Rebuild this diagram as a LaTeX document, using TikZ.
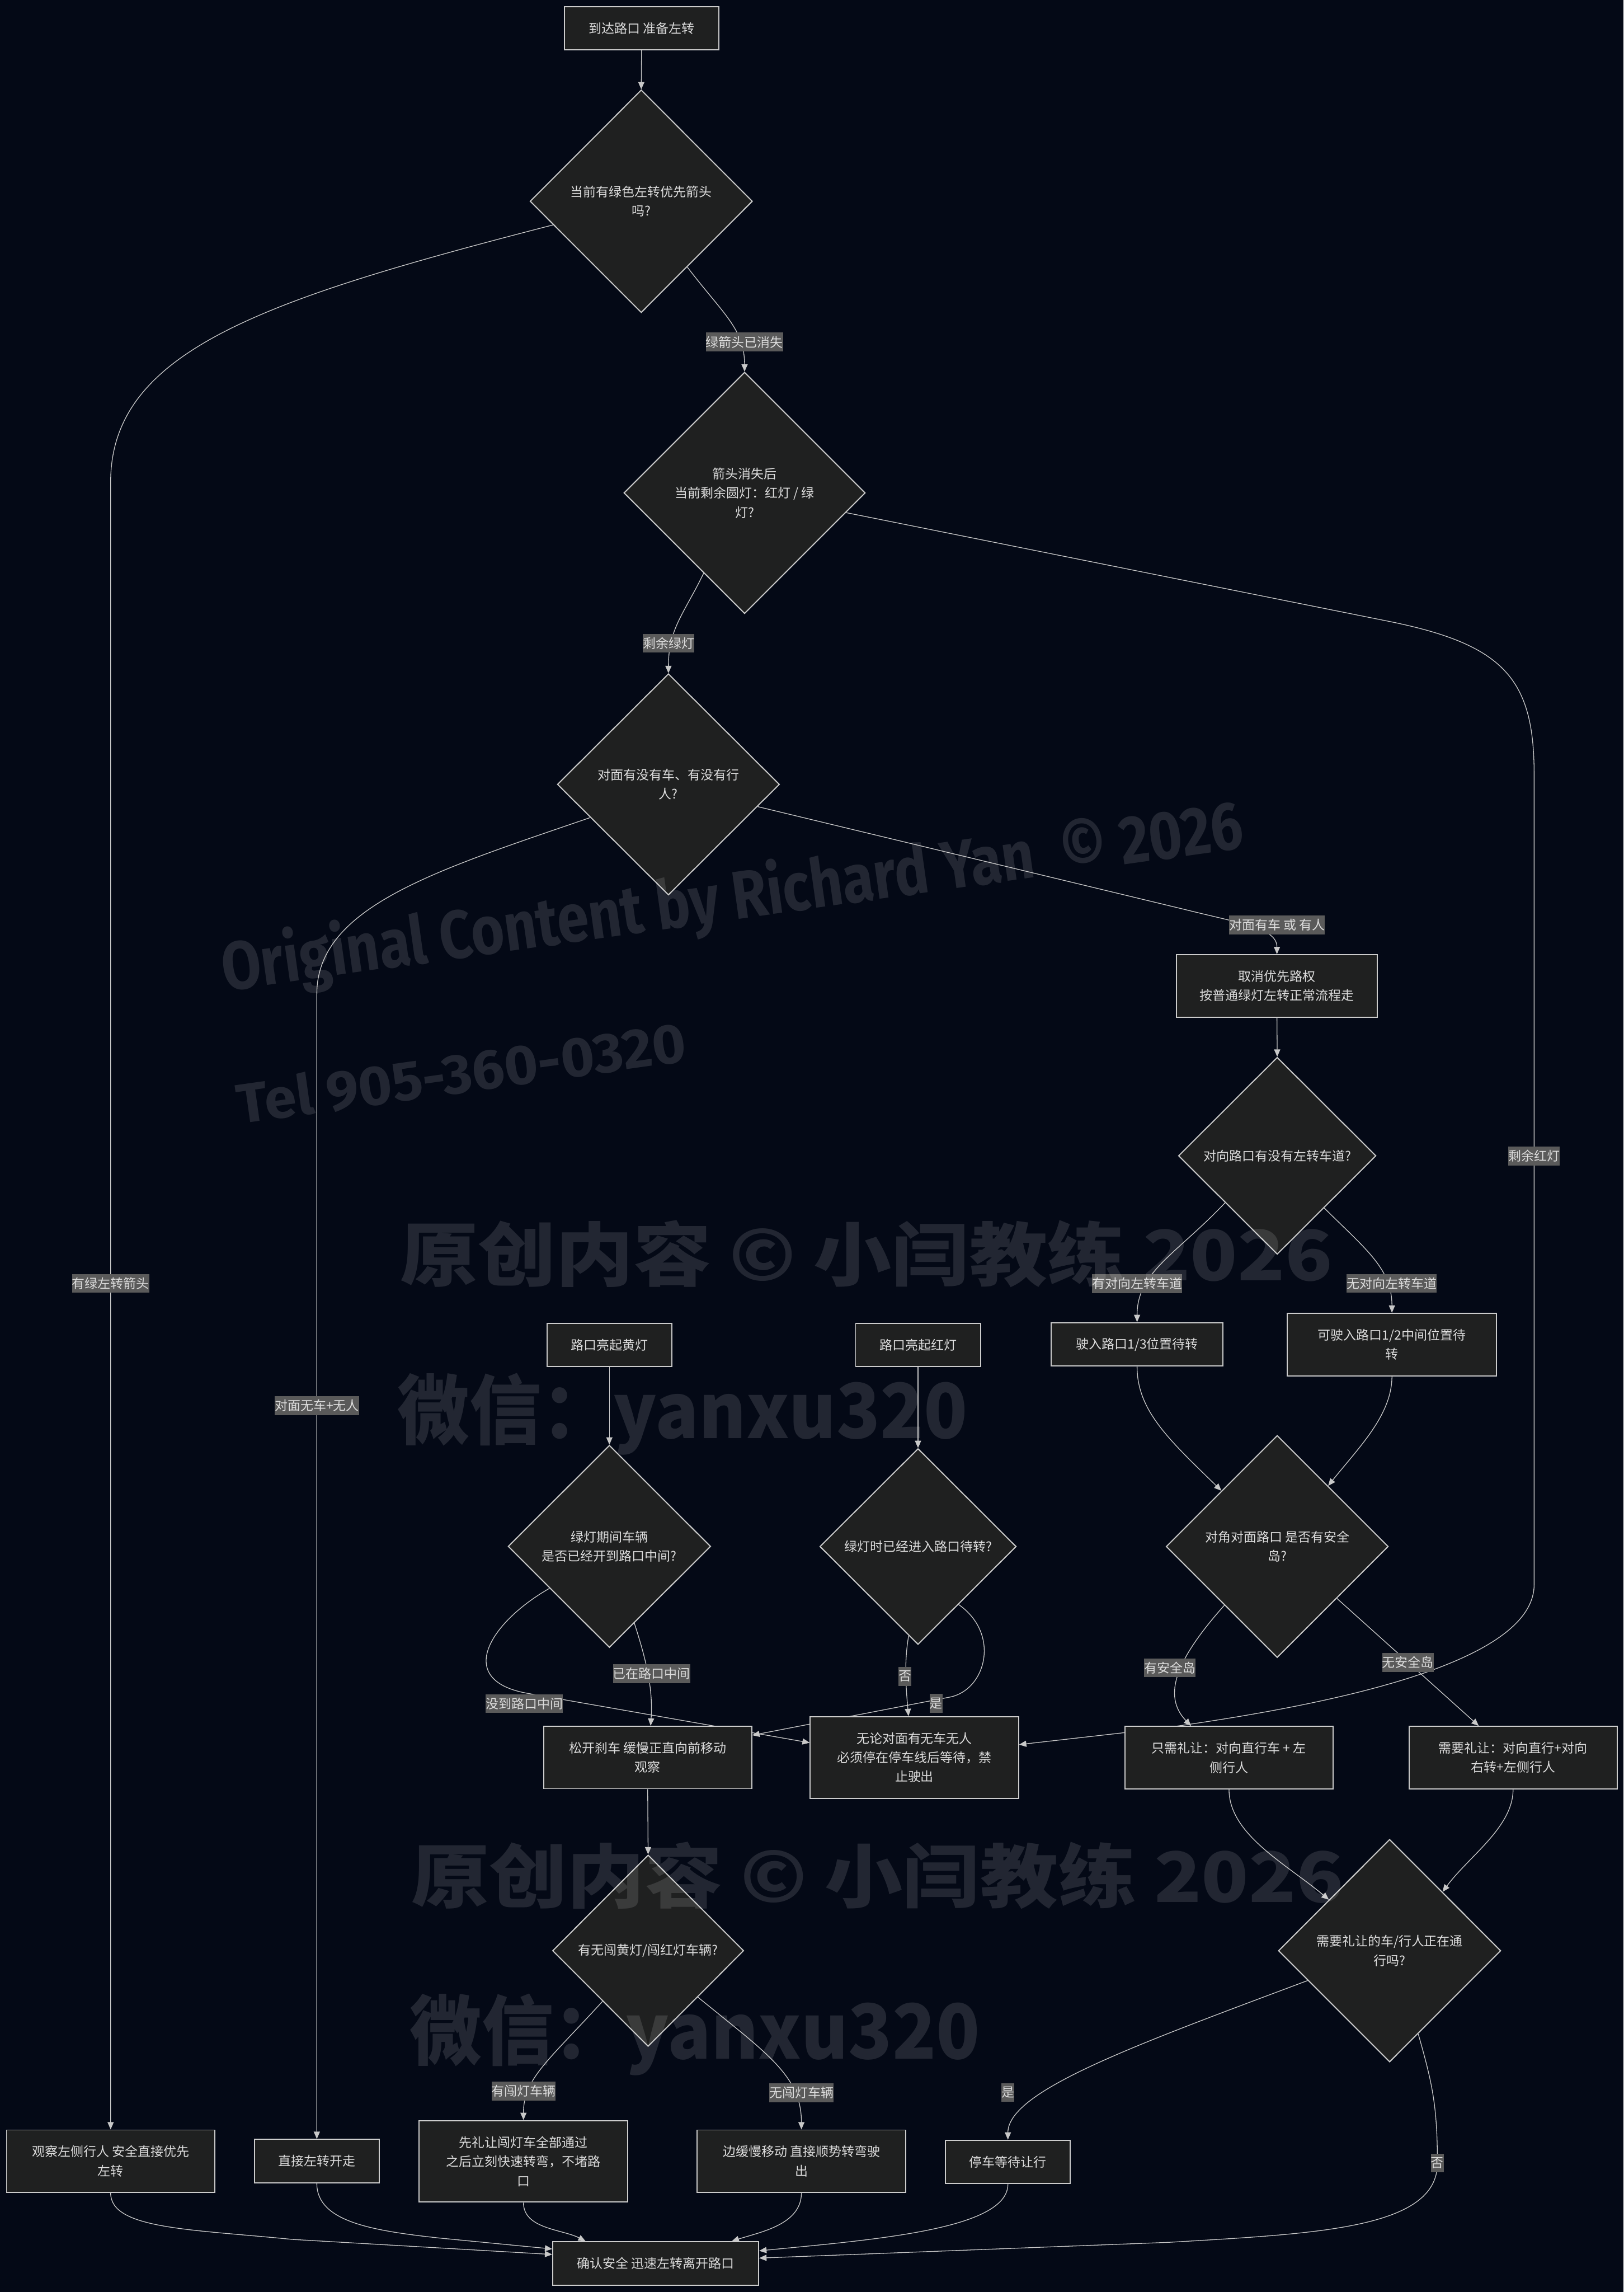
\documentclass[tikz,border=0pt]{standalone}
\usepackage{graphicx}
\usepackage{fontspec}
\setmainfont{Noto Sans CJK SC}
\newfontfamily\wmlatin{Fira Sans}
\newfontfamily\wmcjk{Noto Sans CJK SC}
\usetikzlibrary{shapes.geometric,arrows.meta}
\pgfdeclarelayer{bglayer}
\pgfdeclarelayer{edgelayer}
\pgfdeclarelayer{wmlayer}
\pgfsetlayers{bglayer,edgelayer,main,wmlayer}
\definecolor{bgc}{HTML}{040916}
\definecolor{nodefill}{HTML}{1F2020}
\definecolor{nodeline}{HTML}{CCCCCC}
\definecolor{txt}{HTML}{DDDDDD}
\definecolor{edgec}{HTML}{C8C8C8}
\definecolor{lblbg}{HTML}{5A5A5A}
\newcommand\nodefont{\fontsize{8.8pt}{13.2pt}\selectfont}
\tikzset{
  box/.style={draw=nodeline, fill=nodefill, line width=0.75pt, text=txt, align=center, inner sep=0pt, font=\nodefont},
  dia/.style={diamond, draw=nodeline, fill=nodefill, line width=0.75pt, text=txt, align=center, inner sep=0pt, font=\nodefont},
  lbl/.style={fill=lblbg, text=txt, inner xsep=0pt, inner ysep=0pt, minimum height=12.9pt, font=\nodefont},
  arr/.style={draw=edgec, line width=0.5pt, -{Triangle[length=5pt,width=4.2pt]}},
  wmtext/.style={text=white, text opacity=0.12, inner sep=0pt}
}
\begin{document}
\begin{tikzpicture}[x=1pt,y=-1pt]
\begin{pgfonlayer}{bglayer}
\fill[bgc] (0,0) rectangle (1111,1568);
\end{pgfonlayer}
\useasboundingbox (0,0) rectangle (1111,1568);

% nodes
\node[box, minimum width=105.5pt, minimum height=29.7pt] (start) at (439,19.3) {到达路口 准备左转};
\node[dia, minimum width=152.2pt, minimum height=152.4pt] (d1) at (438.8,137.7) {当前有绿色左转优先箭头\\吗?};
\node[dia, minimum width=165.2pt, minimum height=165.2pt] (d2) at (509.5,337.2) {箭头消失后\\当前剩余圆灯：红灯 / 绿\\灯?};
\node[dia, minimum width=152pt, minimum height=151.4pt] (d3) at (457.4,536.6) {对面有没有车、有没有行\\人?};
\node[box, minimum width=137.7pt, minimum height=42.7pt] (cancel) at (873.8,674.5) {取消优先路权\\按普通绿灯左转正常流程走};
\node[dia, minimum width=135.2pt, minimum height=134.8pt] (d4) at (874,790.7) {对向路口有没有左转车道?};
\node[box, minimum width=117.3pt, minimum height=29.7pt] (b13) at (778.1,919.7) {驶入路口1/3位置待转};
\node[box, minimum width=143.2pt, minimum height=42.7pt] (b12) at (952.5,919.8) {可驶入路口1/2中间位置待\\转};
\node[dia, minimum width=152pt, minimum height=152pt] (d5) at (874,1058) {对角对面路口 是否有安全\\岛?};
\node[box, minimum width=142.6pt, minimum height=42.7pt] (only) at (841,1202.4) {只需礼让：对向直行车 + 左\\侧行人};
\node[box, minimum width=142.4pt, minimum height=42.7pt] (need) at (1035.4,1202.4) {需要礼让：对向直行+对向\\右转+左侧行人};
\node[dia, minimum width=152.2pt, minimum height=152.3pt] (d6) at (950.9,1334.5) {需要礼让的车/行人正在通\\行吗?};
\node[box, minimum width=85.4pt, minimum height=29.7pt] (stopw) at (689.7,1479) {停车等待让行};
\node[box, minimum width=140.9pt, minimum height=29.7pt] (final) at (448.7,1548.5) {确认安全 迅速左转离开路口};
\node[box, minimum width=142.6pt, minimum height=42.7pt] (obs) at (75.7,1478.5) {观察左侧行人 安全直接优先\\左转};
\node[box, minimum width=85.6pt, minimum height=29.7pt] (direct) at (216.8,1478.5) {直接左转开走};
\node[box, minimum width=142.6pt, minimum height=55.8pt] (yield) at (358.2,1478.6) {先礼让闯灯车全部通过\\之后立刻快速转弯，不堵路\\口};
\node[box, minimum width=142.5pt, minimum height=42.7pt] (edgeout) at (548.4,1478.5) {边缓慢移动 直接顺势转弯驶\\出};
\node[box, minimum width=85.4pt, minimum height=29.4pt] (yellow) at (417,920) {路口亮起黄灯};
\node[box, minimum width=85.4pt, minimum height=29.4pt] (red) at (628.2,920) {路口亮起红灯};
\node[dia, minimum width=138.6pt, minimum height=138.4pt] (d7) at (417,1057.9) {绿灯期间车辆\\是否已经开到路口中间?};
\node[dia, minimum width=134.4pt, minimum height=134pt] (d8) at (628.2,1058) {绿灯时已经进入路口待转?};
\node[box, minimum width=142.4pt, minimum height=42.7pt] (release) at (443.2,1202.3) {松开刹车 缓慢正直向前移动\\观察};
\node[box, minimum width=142.5pt, minimum height=55.8pt] (stopline) at (625.7,1202.3) {无论对面有无车无人\\必须停在停车线后等待，禁\\止驶出};
\node[dia, minimum width=130.8pt, minimum height=131pt] (d9) at (443.5,1334.5) {有无闯黄灯/闯红灯车辆?};

% edges
\begin{pgfonlayer}{edgelayer}
\draw[arr] (start.south) -- (d1.north);
\draw[arr] (d1.195) .. controls (180,205) and (75.7,240) .. (75.7,330) -- (obs.north);
\draw[arr] (d1.305) .. controls (495,215) and (509.5,225) .. (d2.north);
\draw[arr] (d2.243) .. controls (468,420) and (457.4,430) .. (d3.north);
\draw[arr] (d2.349) -- (950,425) .. controls (1030,441) and (1049.8,465) .. (1049.8,530) -- (1049.8,1084) .. controls (1049.8,1140) and (900,1168) .. (790,1183) -- (stopline.7);
\draw[arr] (d3.203.5) .. controls (300,595) and (216.8,620) .. (216.8,680) -- (direct.north);
\draw[arr] (d3.346) -- (810,622) .. controls (850,632) and (873.8,635) .. (cancel.north);
\draw[arr] (cancel.south) -- (d4.north);
\draw[arr] (d4.222) .. controls (805,858) and (778.1,870) .. (b13.north);
\draw[arr] (d4.312) .. controls (935,855) and (952.5,868) .. (b12.north);
\draw[arr] (b13.south) .. controls (778.1,965) and (800,985) .. (d5.135);
\draw[arr] (b12.south) .. controls (952.5,968) and (930,990) .. (d5.50);
\draw[arr] (d5.228) .. controls (805,1135) and (795,1160) .. ([xshift=-26pt]only.north);
\draw[arr] (d5.319) -- ([xshift=-23.5pt]need.north);
\draw[arr] (only.south) .. controls (841,1255) and (880,1275) .. (d6.140);
\draw[arr] (need.south) .. controls (1035.4,1250) and (1005,1270) .. (d6.48);
\draw[arr] (d6.200) .. controls (780,1398) and (689.7,1430) .. (stopw.north);
\draw[arr] (d6.289) .. controls (980,1425) and (983.6,1440) .. (983.6,1480) .. controls (983.6,1525) and (900,1528) .. (800,1534) -- (final.3.6);
\draw[arr] (stopw.south) .. controls (689.7,1525) and (600,1532) .. (final.7.3);
\draw[arr] (obs.south) .. controls (75.7,1525) and (130,1525) .. (200,1532) -- (final.175.5);
\draw[arr] (direct.south) .. controls (216.8,1520) and (255,1526) .. (300,1531) -- (final.172.3);
\draw[arr] (yield.south) .. controls (358.2,1525) and (385,1525) .. ([xshift=-48pt]final.north);
\draw[arr] (edgeout.south) .. controls (548.4,1522) and (520,1527) .. ([xshift=52pt]final.north);
\draw[arr] (yellow.south) -- (d7.north);
\draw[arr] (red.south) -- (d8.north);
\draw[arr] (d7.288) .. controls (442,1135) and (447,1155) .. ([xshift=2pt]release.north);
\draw[arr] (d7.215.5) .. controls (335,1110) and (310,1150) .. (362,1158.6) -- (stopline.172);
\draw[arr] (d8.264) .. controls (619,1135) and (619.5,1150) .. ([xshift=-4pt]stopline.north);
\draw[arr] (d8.305) .. controls (685,1118) and (674.5,1156.2) .. (650,1161) -- (release.12);
\draw[arr] (release.south) -- (d9.north);
\draw[arr] (d9.228) .. controls (375,1410) and (358.2,1422) .. (yield.north);
\draw[arr] (d9.317) .. controls (525,1405) and (548.4,1420) .. (edgeout.north);
\end{pgfonlayer}

% edge labels
\node[lbl] (l1) at (509.5,234) {绿箭头已消失};
\node[lbl] (l2) at (457.5,440) {剩余绿灯};
\node[lbl] (l3) at (1049.8,790.8) {剩余红灯};
\node[lbl] (l4) at (75.7,878) {有绿左转箭头};
\node[lbl] (l5) at (216.9,961.6) {对面无车+无人};
\node[lbl] (l6) at (873.9,632.8) {对面有车 或 有人};
\node[lbl] (l7) at (778.2,878.2) {有对向左转车道};
\node[lbl] (l8) at (952.4,878) {无对向左转车道};
\node[lbl] (l9) at (800.5,1141) {有安全岛};
\node[lbl] (l10) at (963.5,1137.2) {无安全岛};
\node[lbl] (l11) at (445.8,1145) {已在路口中间};
\node[lbl] (l12) at (358.8,1165.5) {没到路口中间};
\node[lbl] (l13) at (619.3,1146.8) {否};
\node[lbl] (l14) at (640.5,1165.2) {是};
\node[lbl] (l15) at (358.3,1430.5) {有闯灯车辆};
\node[lbl] (l16) at (548.5,1431.6) {无闯灯车辆};
\node[lbl] (l17) at (689.7,1431.5) {是};
\node[lbl] (l18) at (983.6,1479.8) {否};

% watermarks
\begin{pgfonlayer}{wmlayer}
\node[wmtext, rotate=8] (wm1) at (501.2,615.4) {\resizebox*{705pt}{48pt}{\wmlatin\bfseries Original Content by Richard Yan\ \ © 2026}};
\node[wmtext, rotate=8] (wm2) at (315.5,733.6) {\resizebox*{310pt}{30pt}{\wmlatin\bfseries Tel 905-360-0320}};
\node[wmtext] (wm3) at (592.9,857.9) {\resizebox*{638pt}{46pt}{\wmcjk\bfseries 原创内容 © 小闫教练 2026}};
\node[wmtext] (wm4) at (467.2,967.2) {\resizebox*{390pt}{56pt}{\wmcjk\bfseries 微信：yanxu320}};
\node[wmtext] (wm5) at (600.5,1283) {\resizebox*{638pt}{46pt}{\wmcjk\bfseries 原创内容 © 小闫教练 2026}};
\node[wmtext] (wm6) at (475.5,1392) {\resizebox*{390pt}{56pt}{\wmcjk\bfseries 微信：yanxu320}};
\end{pgfonlayer}
\end{tikzpicture}
\end{document}
